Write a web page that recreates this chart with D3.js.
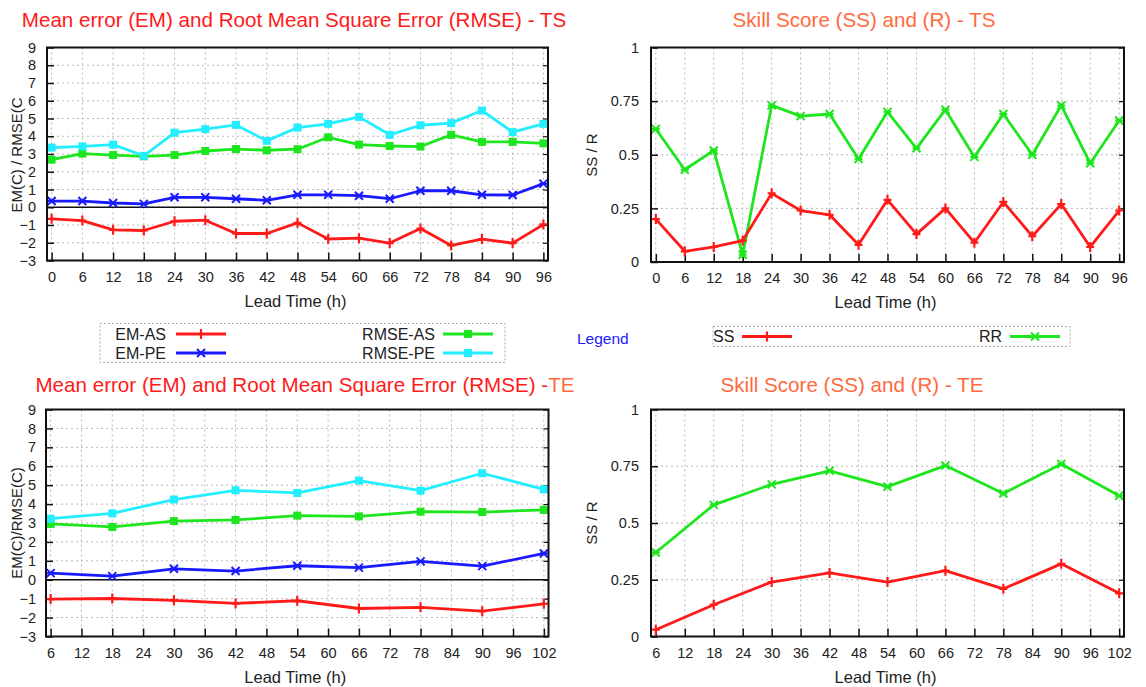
<!DOCTYPE html>
<html><head><meta charset="utf-8">
<script src="https://cdn.jsdelivr.net/npm/d3@7"></script>
<style>
html,body{margin:0;padding:0;background:#fff;}
svg{display:block;font-family:"Liberation Sans",Arial,sans-serif;}
</style></head>
<body>
<svg id="chart" width="1146" height="687"></svg>
<script>
// ---------- DATA ----------
const leadTS = [0,6,12,18,24,30,36,42,48,54,60,66,72,78,84,90,96];
const leadTE = [6,18,30,42,54,66,78,90,102];
const tickTS = [0,6,12,18,24,30,36,42,48,54,60,66,72,78,84,90,96];
const tickTE = [6,12,18,24,30,36,42,48,54,60,66,72,78,84,90,96,102];
const tickEM = [-3,-2,-1,0,1,2,3,4,5,6,7,8,9];
const tickSS = [0,0.25,0.5,0.75,1];

const emAS_TS   = [-0.65,-0.75,-1.27,-1.31,-0.79,-0.73,-1.48,-1.48,-0.88,-1.79,-1.74,-2.02,-1.20,-2.15,-1.79,-2.02,-0.97];
const emPE_TS   = [0.35,0.35,0.24,0.19,0.56,0.56,0.48,0.39,0.70,0.70,0.65,0.48,0.93,0.93,0.70,0.69,1.33];
const rmseAS_TS = [2.68,3.02,2.94,2.87,2.94,3.17,3.28,3.21,3.27,3.94,3.53,3.45,3.42,4.08,3.68,3.68,3.60];
const rmsePE_TS = [3.36,3.43,3.53,2.90,4.20,4.40,4.64,3.74,4.49,4.70,5.09,4.08,4.62,4.74,5.45,4.23,4.70];

const ss_TS = [0.20,0.05,0.07,0.10,0.32,0.24,0.22,0.08,0.29,0.13,0.25,0.09,0.28,0.12,0.27,0.07,0.24];
const r_TS  = [0.62,0.43,0.52,0.034,0.73,0.68,0.69,0.48,0.70,0.53,0.71,0.49,0.69,0.50,0.73,0.46,0.66];

const emAS_TE   = [-1.02,-0.99,-1.09,-1.25,-1.11,-1.52,-1.46,-1.66,-1.27];
const emPE_TE   = [0.35,0.19,0.58,0.46,0.74,0.64,0.97,0.72,1.39];
const rmseAS_TE = [2.95,2.79,3.10,3.16,3.39,3.35,3.60,3.58,3.69];
const rmsePE_TE = [3.23,3.51,4.24,4.73,4.59,5.24,4.71,5.63,4.78];

const ss_TE = [0.03,0.14,0.24,0.28,0.24,0.29,0.21,0.32,0.19];
const r_TE  = [0.37,0.58,0.67,0.73,0.66,0.753,0.63,0.76,0.62];

const legendEM = ["EM-AS","EM-PE","RMSE-AS","RMSE-PE"];
const legendSS = ["SS","RR"];

// ---------- STYLE ----------
const C = {red:"#ff1a1a", blue:"#1a1aff", green:"#1ee61e", cyan:"#22eeff", orange:"#ff6a3d", txt:"#222"};
const svg = d3.select("#chart");

function marker(g, type, color, x, y){
  if(type==="square"){
    g.append("rect").attr("x",x-4).attr("y",y-4).attr("width",8).attr("height",8).attr("fill",color);
  } else if(type==="plus"){
    g.append("path").attr("d",`M${x-4},${y}H${x+4}M${x},${y-5}V${y+5}`).attr("stroke",color).attr("stroke-width",2.2).attr("fill","none");
  } else if(type==="star"){
    g.append("path").attr("d",`M${x-4},${y-4}L${x+4},${y+4}M${x-4},${y+4}L${x+4},${y-4}M${x-4},${y}H${x+4}`).attr("stroke",color).attr("stroke-width",2).attr("fill","none");
  }
}

function panel(o){
  const g = svg.append("g");
  const x = d3.scaleLinear().domain(o.xDomain).range([o.left,o.right]);
  const y = d3.scaleLinear().domain(o.yDomain).range([o.bottom,o.top]);
  // grid
  const grid = g.append("g").attr("stroke","#b8b8b8").attr("stroke-width",1).attr("stroke-dasharray","2,3");
  o.xTicks.forEach(t=>grid.append("line").attr("x1",x(t)).attr("x2",x(t)).attr("y1",o.top).attr("y2",o.bottom));
  o.yTicks.forEach(t=>grid.append("line").attr("x1",o.left).attr("x2",o.right).attr("y1",y(t)).attr("y2",y(t)));
  // zero line
  if(o.zero) g.append("line").attr("x1",o.left).attr("x2",o.right).attr("y1",y(0)).attr("y2",y(0)).attr("stroke","#111").attr("stroke-width",1.5);
  // axes via d3
  const xb = g.append("g").attr("transform",`translate(0,${o.bottom})`)
    .call(d3.axisBottom(x).tickValues(o.xTicks).tickSize(-8).tickPadding(10).tickFormat(d3.format("d")));
  xb.select(".domain").remove();
  xb.selectAll("line").attr("stroke","#111").attr("stroke-width",1.5);
  xb.selectAll("text").attr("font-size",14.5).attr("fill",C.txt).attr("dy","0.71em").attr("y",11);
  const yl = g.append("g").attr("transform",`translate(${o.left},0)`)
    .call(d3.axisLeft(y).tickValues(o.yTicks).tickSize(-7).tickPadding(o.yPad).tickFormat(o.yFmt));
  yl.select(".domain").remove();
  yl.selectAll("line").attr("stroke","#111").attr("stroke-width",1.5);
  yl.selectAll("text").attr("font-size",14.5).attr("fill",C.txt);
  const yr = g.append("g").attr("transform",`translate(${o.right},0)`)
    .call(d3.axisRight(y).tickValues(o.yTicks).tickSize(-5).tickFormat(""));
  yr.select(".domain").remove();
  yr.selectAll("line").attr("stroke","#111").attr("stroke-width",1.2);
  // series
  o.series.forEach(s=>{
    const line = d3.line().x((d,i)=>x(o.xVals[i])).y(d=>y(d));
    g.append("path").datum(s.vals).attr("d",line).attr("fill","none").attr("stroke",s.color).attr("stroke-width",2.8).attr("stroke-linejoin","round");
    const mg = g.append("g");
    s.vals.forEach((v,i)=>marker(mg,s.marker,s.color,x(o.xVals[i]),y(v)));
  });
  // frame
  g.append("rect").attr("x",o.left).attr("y",o.top).attr("width",o.right-o.left).attr("height",o.bottom-o.top)
    .attr("fill","none").attr("stroke","#111").attr("stroke-width",2);
  // labels
  g.append("text").attr("x",(o.left+o.right)/2-2).attr("y",o.bottom+46).attr("text-anchor","middle")
    .attr("font-size",16.5).attr("fill",C.txt).text("Lead Time (h)");
  g.append("text").attr("transform",`translate(${o.yLabX},${o.yLabY}) rotate(-90)`).attr("text-anchor","middle")
    .attr("dy","0.35em").attr("font-size",15).attr("fill",C.txt).text(o.yLabel);
  const t = g.append("text").attr("x",o.titleX).attr("y",o.titleY).attr("text-anchor","middle").attr("font-size",20.6);
  o.title.forEach(p=>t.append("tspan").attr("fill",p[1]).text(p[0]));
}

const emSeries = (a,b,c,d)=>[
  {vals:c,color:C.green,marker:"square"},
  {vals:d,color:C.cyan,marker:"square"},
  {vals:b,color:C.blue,marker:"star"},
  {vals:a,color:C.red,marker:"plus"}];
const ssSeries = (a,b)=>[
  {vals:b,color:C.green,marker:"star"},
  {vals:a,color:C.red,marker:"plus"}];

panel({left:47,right:548,top:47.5,bottom:260.5,xDomain:[-0.9,96.9],yDomain:[-3,9],xTicks:tickTS,yTicks:tickEM,
  yFmt:d3.format("d"),yPad:11,xVals:leadTS,series:emSeries(emAS_TS,emPE_TS,rmseAS_TS,rmsePE_TS),zero:true,
  yLabel:"EM(C) / RMSE(C",yLabX:17,yLabY:155,
  title:[["Mean error (EM) and Root Mean Square Error (RMSE) - TS",C.red]],titleX:294,titleY:27});
panel({left:651,right:1124,top:47.5,bottom:262,xDomain:[-1,97],yDomain:[0,1],xTicks:tickTS,yTicks:tickSS,
  yFmt:d=>String(d),yPad:12,xVals:leadTS,series:ssSeries(ss_TS,r_TS),zero:false,
  yLabel:"SS / R",yLabX:592,yLabY:155,
  title:[["Skill Score (SS) and (R) - TS",C.orange]],titleX:864,titleY:27});
panel({left:46,right:548.5,top:409.5,bottom:636.5,xDomain:[5.1,102.9],yDomain:[-3,9],xTicks:tickTE,yTicks:tickEM,
  yFmt:d3.format("d"),yPad:10,xVals:leadTE,series:emSeries(emAS_TE,emPE_TE,rmseAS_TE,rmsePE_TE),zero:true,
  yLabel:"EM(C)/RMSE(C)",yLabX:17,yLabY:523,
  title:[["Mean error (EM) and Root Mean Square Error (RMSE) -",C.red],["TE",C.orange]],titleX:305,titleY:392});
panel({left:651,right:1124,top:409.5,bottom:636.5,xDomain:[5,103],yDomain:[0,1],xTicks:tickTE,yTicks:tickSS,
  yFmt:d=>String(d),yPad:12,xVals:leadTE,series:ssSeries(ss_TE,r_TE),zero:false,
  yLabel:"SS / R",yLabX:592,yLabY:523,
  title:[["Skill Score (SS) and (R) - TE",C.orange]],titleX:852,titleY:392});

// ---------- LEGENDS ----------
const lg = svg.append("g");
lg.append("rect").attr("x",100).attr("y",323.5).attr("width",405).attr("height",39)
  .attr("fill","none").attr("stroke","#aaa").attr("stroke-dasharray","2,2");
const emLeg = [
  {name:legendEM[0],color:C.red,marker:"plus",tx:166,lx:176,y:334},
  {name:legendEM[1],color:C.blue,marker:"star",tx:166,lx:176,y:353},
  {name:legendEM[2],color:C.green,marker:"square",tx:435,lx:443,y:334},
  {name:legendEM[3],color:C.cyan,marker:"square",tx:435,lx:443,y:353}];
emLeg.forEach(e=>{
  lg.append("text").attr("x",e.tx).attr("y",e.y).attr("dy","0.36em").attr("text-anchor","end").attr("font-size",16).attr("fill",C.txt).text(e.name);
  lg.append("line").attr("x1",e.lx).attr("x2",e.lx+50).attr("y1",e.y).attr("y2",e.y).attr("stroke",e.color).attr("stroke-width",2.8);
  marker(lg,e.marker,e.color,e.lx+25,e.y);
});
lg.append("text").attr("x",577).attr("y",338).attr("dy","0.36em").attr("font-size",15.5).attr("fill","#1a1aff").text("Legend");
lg.append("rect").attr("x",713).attr("y",326.5).attr("width",357).attr("height",20)
  .attr("fill","none").attr("stroke","#aaa").attr("stroke-dasharray","2,2");
const ssLeg = [
  {name:legendSS[0],color:C.red,marker:"plus",tx:713,lx:742,y:336.5},
  {name:legendSS[1],color:C.green,marker:"star",tx:979,lx:1010,y:336.5}];
ssLeg.forEach(e=>{
  lg.append("text").attr("x",e.tx).attr("y",e.y).attr("dy","0.36em").attr("font-size",16).attr("fill",C.txt).text(e.name);
  lg.append("line").attr("x1",e.lx).attr("x2",e.lx+50).attr("y1",e.y).attr("y2",e.y).attr("stroke",e.color).attr("stroke-width",2.8);
  marker(lg,e.marker,e.color,e.lx+25,e.y);
});
</script>
</body></html>
